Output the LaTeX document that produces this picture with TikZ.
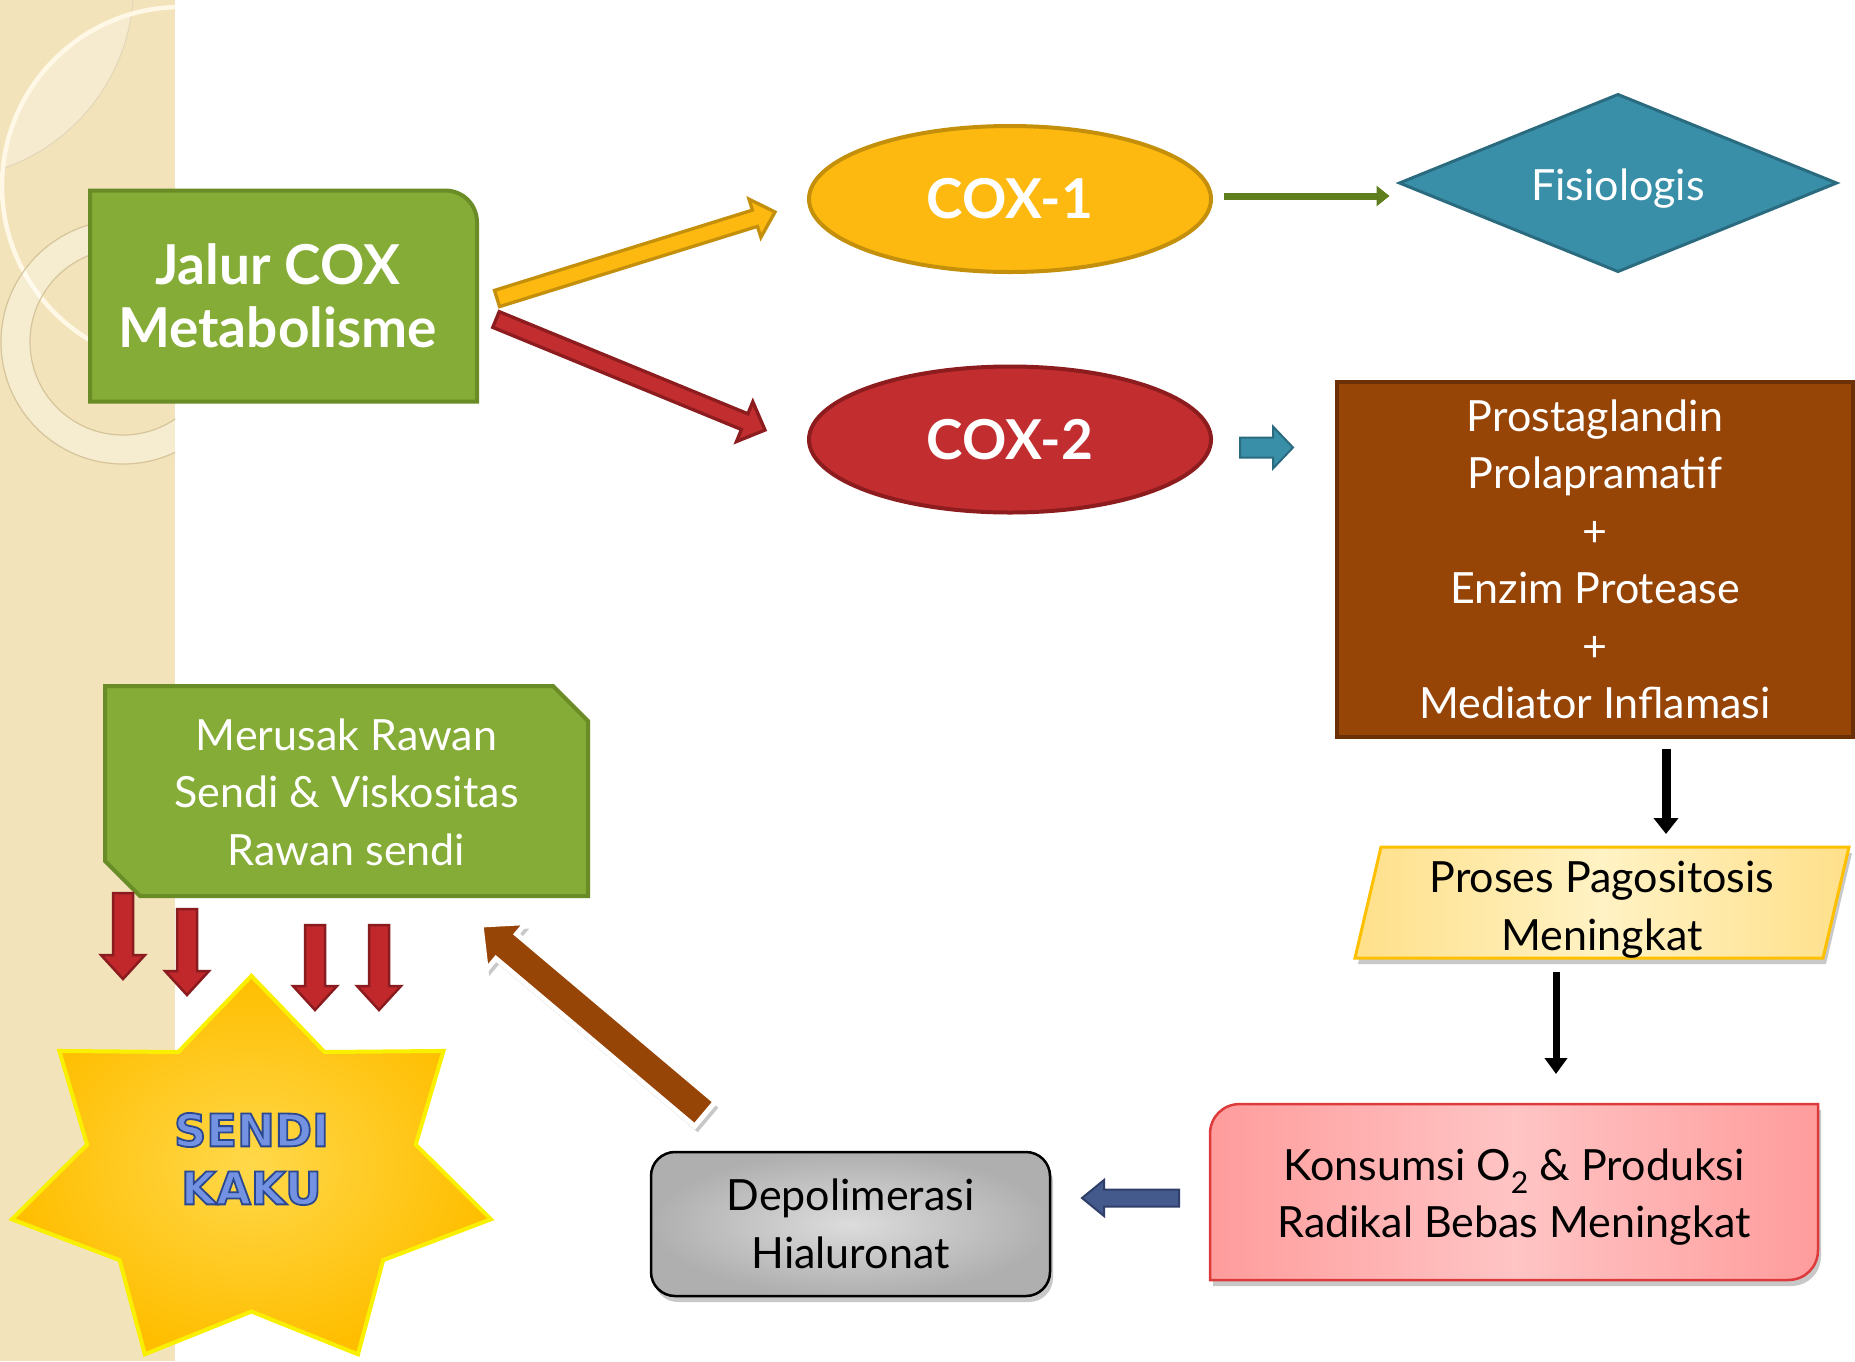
\documentclass[tikz,border=0pt]{standalone}
\usepackage{fontspec}
\setmainfont{Lato}
\newfontfamily\sendifont{DejaVu Sans}
\usetikzlibrary{shapes.geometric,calc,shadows,arrows.meta}
\pgfdeclarelayer{back}
\pgfdeclarelayer{shapes}
\pgfsetlayers{back,shapes,main}

\definecolor{tanbg}{HTML}{F3E3BB}
\definecolor{cream}{HTML}{FFF8E6}
\definecolor{ringedge}{HTML}{D6C59A}
\definecolor{jalurF}{HTML}{85AC36}
\definecolor{jalurD}{HTML}{6A8C26}
\definecolor{coxAF}{HTML}{FDB910}
\definecolor{coxAD}{HTML}{C4900C}
\definecolor{coxBF}{HTML}{C22D2F}
\definecolor{coxBD}{HTML}{8C1C1E}
\definecolor{tealF}{HTML}{3A8FA8}
\definecolor{tealD}{HTML}{2A6B80}
\definecolor{brownF}{HTML}{974407}
\definecolor{brownD}{HTML}{6B3005}
\definecolor{prosesA}{HTML}{FFE08A}
\definecolor{prosesB}{HTML}{FFF2C4}
\definecolor{prosesD}{HTML}{FFC000}
\definecolor{konsA}{HTML}{FF9C9C}
\definecolor{konsB}{HTML}{FFC4C4}
\definecolor{konsD}{HTML}{DD3B3B}
\definecolor{depA}{HTML}{DCDCDC}
\definecolor{depB}{HTML}{AFAFAF}
\definecolor{navyF}{HTML}{44598C}
\definecolor{navyD}{HTML}{2F3F6A}
\definecolor{redF}{HTML}{C0282C}
\definecolor{redD}{HTML}{8A1B1E}
\definecolor{greenArr}{HTML}{5F7F1F}
\definecolor{starA}{HTML}{FFD84A}
\definecolor{starB}{HTML}{FFBE00}
\definecolor{starD}{HTML}{F8F000}
\definecolor{sendilight}{HTML}{7393E2}

\newcommand\myblockarrow[6]{%
  \coordinate (tmpC) at ($(#3)!#6!(#2)$);
  \path[#1] ($(#2)!#4!90:(#3)$) -- ($(tmpC)!#4!-90:(#2)$) -- ($(tmpC)!#5!-90:(#2)$) -- (#3)
    -- ($(tmpC)!#5!90:(#2)$) -- ($(tmpC)!#4!90:(#2)$) -- ($(#2)!#4!-90:(#3)$) -- cycle;}
\newcommand\outl[1]{\special{pdf:literal direct 2 Tr 1.8 w 0.17 0.28 0.56 RG}#1\special{pdf:literal direct 0 Tr}}

\begin{document}
\begin{tikzpicture}[x=1pt,y=-1pt,
  every node/.style={inner sep=0pt, outer sep=0pt},
  wtxt/.style={text=white, align=center, font=\fontsize{43}{57.5}\selectfont},
  btxt/.style={text=black, align=center, font=\fontsize{43}{57.5}\selectfont},
  bigbold/.style={text=white, align=center, font=\fontsize{55}{63}\selectfont\bfseries},
  shadowed/.style={drop shadow={shadow xshift=3pt, shadow yshift=-6pt, opacity=0.3, fill=black!70}},
  redarrow/.style={fill=redF, draw=redD, line width=2.5pt, line join=miter},
]
\useasboundingbox (0,0) rectangle (1855,1361);

% ---------- background ----------
\begin{pgfonlayer}{back}
\fill[white] (0,0) rectangle (1855,1361);
\begin{scope}
  \clip (0,0) rectangle (175,1361);
  \fill[tanbg] (0,0) rectangle (175,1361);
  \begin{scope}
    \clip (181,186) circle[radius=179pt];
    \fill[white, opacity=0.3] (-60,-14.6) circle[radius=193.6pt];
  \end{scope}
  \draw[ringedge!70, line width=1pt] (-60,-14.6) circle[radius=193.6pt];
  \draw[cream, line width=4.5pt] (181,186) circle[radius=179pt];
  \fill[white, opacity=0.32, even odd rule] (123,342) circle[radius=122pt] (123,342) circle[radius=93pt];
  \draw[ringedge, line width=1.2pt] (123,342) circle[radius=122pt] (123,342) circle[radius=93pt];
\end{scope}
\end{pgfonlayer}

% ---------- nodes ----------
\node[bigbold, minimum width=387pt, minimum height=211pt] (jalur) at (283.5,296) {\hspace*{-12pt}Jalur COX\\\hspace*{-12pt}Metabolisme};

\node[ellipse, fill=coxAF, draw=coxAD, line width=4pt, minimum width=402pt, minimum height=146pt, bigbold] (cox1) at (1010,199) {COX-1};
\node[ellipse, fill=coxBF, draw=coxBD, line width=4pt, minimum width=402pt, minimum height=146pt, bigbold] (cox2) at (1010,439.5) {COX-2};

\node[diamond, aspect=2.47, fill=tealF, draw=tealD, line width=3pt, minimum width=437pt, minimum height=177pt, text=white, font=\fontsize{43}{48}\selectfont] (fis) at (1618,183) {\raisebox{-6pt}[\height][\depth]{Fisiologis}};

\node[rectangle, fill=brownF, draw=brownD, line width=4pt, minimum width=516pt, minimum height=355pt, wtxt] (brown) at (1595,559.5)
  {Prostaglandin\\Prolapramatif\\+\\Enzim Protease\\+\\Mediator Inflamasi};

\node[btxt, minimum width=494pt, minimum height=111pt] (proses) at (1602,909.5) {Proses Pagositosis\\Meningkat};

\node[btxt, minimum width=608pt, minimum height=176pt] (kons) at (1514,1197) {Konsumsi O\textsubscript{2} \& Produksi\\Radikal Bebas Meningkat};

\node[rectangle, rounded corners=24pt, draw=black, line width=2.5pt, inner color=depA, outer color=depB, shadowed, minimum width=399pt, minimum height=144pt, btxt] (depol) at (850.5,1224) {Depolimerasi\\Hialuronat};

\node[wtxt, minimum width=483pt, minimum height=210pt] (merusak) at (346.5,792) {Merusak Rawan\\Sendi \& Viskositas\\Rawan sendi};

\node[text=sendilight, align=center, font=\sendifont\bfseries\fontsize{45}{58}\selectfont] (star) at (251.4,1159) {\outl{SENDI}\\\outl{KAKU}};

% ---------- custom shapes ----------
\begin{pgfonlayer}{shapes}
\path[draw=jalurD, fill=jalurF, line width=4pt] (jalur.south west) -- (jalur.north west)
  -- ($(jalur.north east)+(-32,0)$) .. controls ($(jalur.north east)+(-14,0)$) and ($(jalur.north east)+(0,14)$) .. ($(jalur.north east)+(0,32)$)
  -- (jalur.south east) -- cycle;
\path[draw=jalurD, fill=jalurF, line width=4pt] ($(merusak.north west)+(0,-1)$) -- ($(merusak.north east)+(-35,-1)$)
  -- ($(merusak.north east)+(0,34)$) -- ($(merusak.south east)+(0,-1)$) -- ($(merusak.south west)+(35,-1)$)
  -- ($(merusak.south west)+(0,-36)$) -- cycle;
\path[draw=prosesD, line width=3pt, shadowed, left color=prosesA, right color=prosesA, middle color=prosesB]
  ($(proses.north west)+(26,-7)$) -- ($(proses.north east)+(0,-7)$) -- ($(proses.south east)+(-26,-7)$) -- ($(proses.south west)+(0,-7)$) -- cycle;
\path[draw=konsD, line width=2.5pt, shadowed, left color=konsA, right color=konsA, middle color=konsB]
  ($(kons.north west)+(0,25)$) .. controls ($(kons.north west)+(0,8)$) and ($(kons.north west)+(13,-5)$) .. ($(kons.north west)+(30,-5)$)
  -- ($(kons.north east)+(0,-5)$) -- ($(kons.south east)+(0,-35)$)
  .. controls ($(kons.south east)+(0,-18)$) and ($(kons.south east)+(-13,-5)$) .. ($(kons.south east)+(-30,-5)$)
  -- ($(kons.south west)+(0,-5)$) -- cycle;
\path[draw=starD, line width=4pt, line join=miter, inner color=starA, outer color=starB]
  (251.4,975.9) \foreach \k in {1,...,13}{
    -- ({251.4+245.7*(1-0.314*mod(\k,2))*sin(\k*180/7)},{1175-199*(1-0.314*mod(\k,2))*cos(\k*180/7)}) } -- cycle;
\end{pgfonlayer}

% ---------- connectors ----------
\coordinate (yaS) at ($(jalur.east)+(20,2.5)$);
\coordinate (yaE) at ($(cox1.west)+(-34,13)$);
\myblockarrow{fill=coxAF, draw=coxAD, line width=3.3pt, line join=miter}{yaS}{yaE}{8.5pt}{20pt}{21pt}
\coordinate (raS) at ($(jalur.east)+(19,23.5)$);
\coordinate (raE) at ($(cox2.west)+(-44,-9.5)$);
\myblockarrow{fill=coxBF, draw=coxBD, line width=3.3pt, line join=miter}{raS}{raE}{8.5pt}{21.5pt}{22pt}

\coordinate (gaS) at ($(cox1.east)+(13,-3)$);
\coordinate (gaE) at ($(fis.west)+(-10,13)$);
\draw[greenArr, line width=7pt, -{Triangle[length=13pt,width=20pt]}] (gaS) -- (gaE);

\coordinate (taS) at ($(cox2.east)+(29,8)$);
\coordinate (taE) at ($(cox2.east)+(82,8)$);
\myblockarrow{fill=tealF, draw=tealD, line width=2pt, line join=miter}{taS}{taE}{10pt}{21pt}{20pt}

\coordinate (b1S) at ($(brown.south)+(71,12)$);
\coordinate (b1E) at ($(proses.north)+(64,-20)$);
\draw[black, line width=9pt, -{Triangle[length=16pt,width=24pt]}] (b1S) -- (b1E);
\coordinate (b2S) at ($(proses.south)+(-46,7)$);
\coordinate (b2E) at ($(kons.north)+(42,-35)$);
\draw[black, line width=7pt, -{Triangle[length=16pt,width=22pt]}] (b2S) -- (b2E);

\coordinate (naS) at ($(kons.west)+(-31,1)$);
\coordinate (naE) at ($(depol.east)+(32,-26)$);
\myblockarrow{fill=navyF, draw=navyD, line width=2pt, line join=miter}{naS}{naE}{8.5pt}{18pt}{22pt}

\coordinate (brS) at ($(depol.north)+(-145.5,-38)$);
\coordinate (brE) at ($(merusak.south east)+(-107,28)$);
\myblockarrow{fill=brownF, draw=white, line width=5pt, line join=miter, shadowed}{brS}{brE}{16pt}{31pt}{33pt}

\coordinate (r1S) at ($(merusak.south west)+(18,-4)$);
\coordinate (r1E) at ($(merusak.south west)+(18,82)$);
\coordinate (r2S) at ($(merusak.south west)+(82,12)$);
\coordinate (r2E) at ($(merusak.south west)+(82,98)$);
\coordinate (r3S) at ($(merusak.south west)+(210,28)$);
\coordinate (r3E) at ($(merusak.south west)+(210,113)$);
\coordinate (r4S) at ($(merusak.south west)+(274,28)$);
\coordinate (r4E) at ($(merusak.south west)+(274,113)$);
\myblockarrow{redarrow}{r1S}{r1E}{10pt}{22pt}{24pt}
\myblockarrow{redarrow}{r2S}{r2E}{10pt}{22pt}{24pt}
\myblockarrow{redarrow}{r3S}{r3E}{10pt}{22pt}{24pt}
\myblockarrow{redarrow}{r4S}{r4E}{10pt}{22pt}{24pt}
\end{tikzpicture}
\end{document}
